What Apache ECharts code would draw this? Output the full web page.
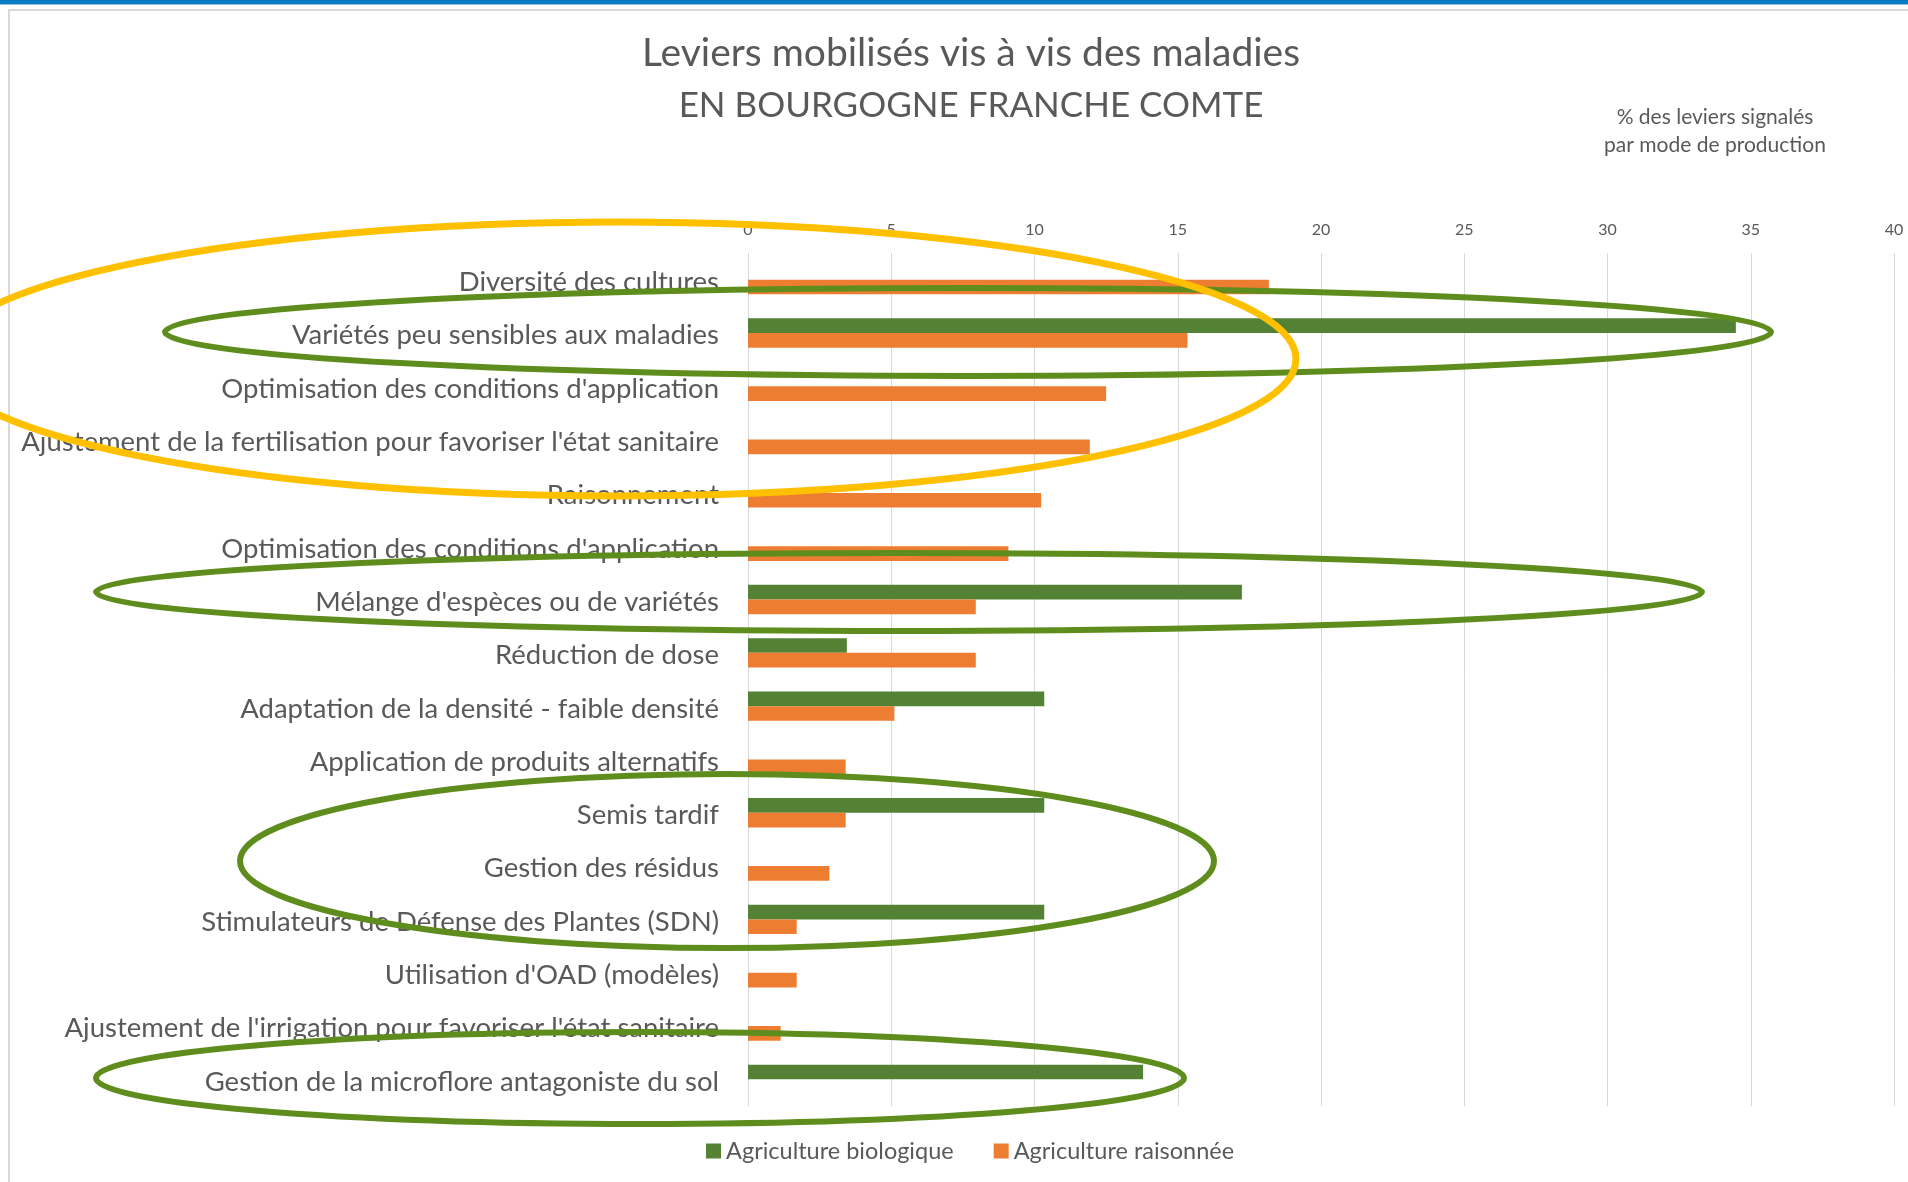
<!DOCTYPE html>
<html lang="fr">
<head>
<meta charset="utf-8">
<title>Leviers mobilisés vis à vis des maladies</title>
<script src="https://cdn.jsdelivr.net/npm/echarts@6/dist/echarts.min.js"></script>
<style>
  html, body { margin: 0; padding: 0; background: #ffffff; }
  #chart { width: 1908px; height: 1182px; }
</style>
</head>
<body>
<div id="chart"></div>
<script>
// Leviers mobilisés (ordre d'affichage, de haut en bas)
const categories = [
  "Diversité des cultures",
  "Variétés peu sensibles aux maladies",
  "Optimisation des conditions d'application",
  "Ajustement de la fertilisation pour favoriser l'état sanitaire",
  "Raisonnement",
  "Optimisation des conditions d'application",
  "Mélange d'espèces ou de variétés",
  "Réduction de dose",
  "Adaptation de la densité - faible densité",
  "Application de produits alternatifs",
  "Semis tardif",
  "Gestion des résidus",
  "Stimulateurs de Défense des Plantes (SDN)",
  "Utilisation d'OAD (modèles)",
  "Ajustement de l'irrigation pour favoriser l'état sanitaire",
  "Gestion de la microflore antagoniste du sol"
];

// % des leviers signalés — agriculture biologique
const bioValues = [null, 34.48, null, null, null, null, 17.24, 3.45, 10.34, null, 10.34, null, 10.34, null, null, 13.79];

// % des leviers signalés — agriculture raisonnée
const raisonneeValues = [18.18, 15.34, 12.5, 11.93, 10.23, 9.09, 7.95, 7.95, 5.11, 3.41, 3.41, 2.84, 1.70, 1.70, 1.14, null];

const seriesNames = ["Agriculture biologique", "Agriculture raisonnée"];
const axisTicks = { min: 0, max: 40, interval: 5 };

const FONT = "Lato, 'Open Sans', sans-serif";
const TEXT = "#595959";
const GREEN = "#548235";
const ORANGE = "#ED7D31";
const MARK_GREEN = "#5E8D1E";
const MARK_YELLOW = "#FFC000";

const chart = echarts.init(document.getElementById("chart"), null, { renderer: "canvas" });

// Entourages tracés à main levée sur le graphique
function ring(cx, cy, rx, ry, color, width) {
  return {
    type: "ellipse",
    shape: { cx: cx, cy: cy, rx: rx, ry: ry },
    style: { fill: null, stroke: color, lineWidth: width },
    z: 100,
    silent: true
  };
}

function titleLine(text, x, y, size, lineHeight) {
  return {
    text: text,
    left: x,
    top: y,
    textAlign: "center",
    textStyle: { fontFamily: FONT, fontSize: size, fontWeight: "normal", color: TEXT, lineHeight: lineHeight }
  };
}

chart.setOption({
  backgroundColor: "#ffffff",
  animation: false,
  textStyle: { fontFamily: FONT },
  title: [
    titleLine("Leviers mobilisés vis à vis des maladies", 966, 25, 39, 46),
    titleLine("EN BOURGOGNE FRANCHE COMTE", 966, 78, 35, 46),
    titleLine("% des leviers signalés\npar mode de production", 1710, 98, 21, 28)
  ],
  legend: {
    data: seriesNames,
    bottom: 14,
    left: 701,
    icon: "rect",
    itemWidth: 15,
    itemHeight: 15,
    itemGap: 40,
    textStyle: { fontFamily: FONT, fontSize: 23.5, color: TEXT },
    selectedMode: false
  },
  grid: { left: 748, right: 14, top: 253, bottom: 76, containLabel: false },
  xAxis: {
    type: "value",
    position: "top",
    min: axisTicks.min,
    max: axisTicks.max,
    interval: axisTicks.interval,
    axisLine: { show: false },
    axisTick: { show: false },
    axisLabel: { fontFamily: FONT, fontSize: 16, color: TEXT, margin: 15 },
    splitLine: { show: true, lineStyle: { color: "#d9d9d9", width: 1 } }
  },
  yAxis: {
    type: "category",
    inverse: true,
    data: categories,
    axisLine: { show: false },
    axisTick: { show: false },
    axisLabel: {
      fontFamily: FONT,
      fontSize: 27.5,
      color: TEXT,
      margin: 29,
      formatter: function (name) { return "{lbl|" + name + "}"; },
      rich: {
        lbl: { fontFamily: FONT, fontSize: 27.5, color: TEXT, padding: [5, 0, 0, 0] }
      }
    }
  },
  series: [
    {
      name: seriesNames[0],
      type: "bar",
      data: bioValues,
      itemStyle: { color: GREEN },
      barGap: "0%",
      barCategoryGap: "45%"
    },
    {
      name: seriesNames[1],
      type: "bar",
      data: raisonneeValues,
      itemStyle: { color: ORANGE },
      barGap: "0%",
      barCategoryGap: "45%"
    }
  ],
  graphic: [
    // bandeau bleu et cadre gris
    { type: "rect", shape: { x: 0, y: 0, width: 1908, height: 4 }, style: { fill: "#0A7CC4" }, silent: true },
    { type: "rect", shape: { x: 0, y: 4, width: 1908, height: 1 }, style: { fill: "#8CC4E8" }, silent: true },
    { type: "rect", shape: { x: 8, y: 9, width: 1900, height: 2 }, style: { fill: "#D9D9D9" }, silent: true },
    { type: "rect", shape: { x: 8, y: 9, width: 2, height: 1173 }, style: { fill: "#D9D9D9" }, silent: true },
    // entourages verts
    ring(968, 332, 803, 44, MARK_GREEN, 6),
    ring(899, 592, 803, 39, MARK_GREEN, 6),
    ring(727, 861, 487, 87, MARK_GREEN, 6),
    ring(640, 1078, 544, 46, MARK_GREEN, 6),
    // entourage jaune
    Object.assign(ring(618, 359, 678, 137, MARK_YELLOW, 7), { z: 101 })
  ]
});
</script>
</body>
</html>
